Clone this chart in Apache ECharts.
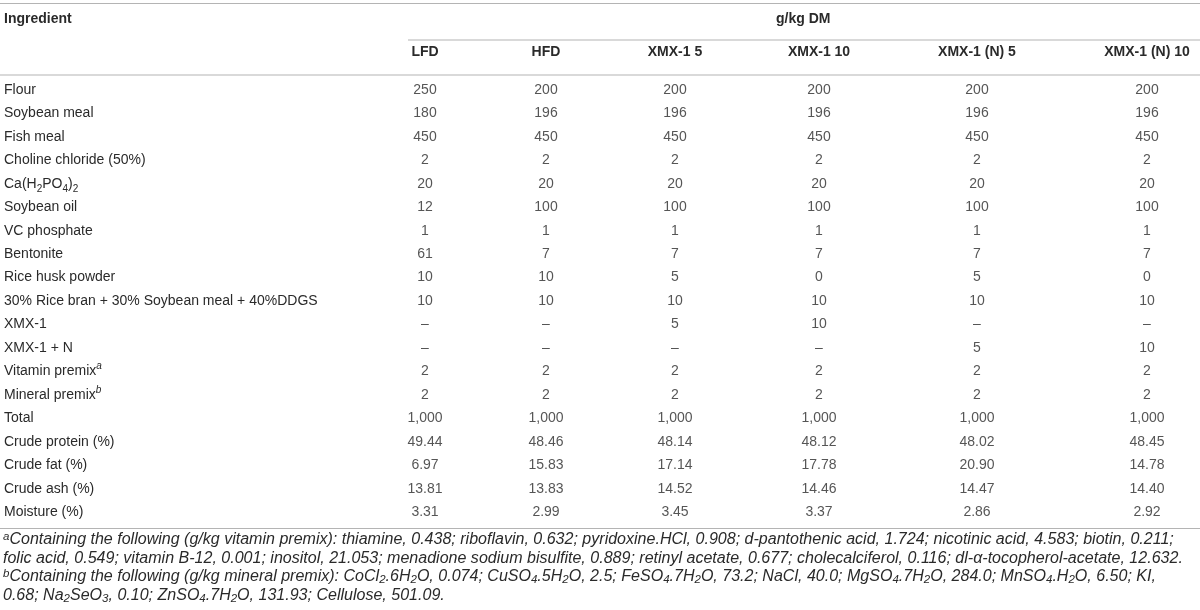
<!DOCTYPE html>
<html>
<head>
<meta charset="utf-8">
<script src="https://cdn.jsdelivr.net/npm/echarts@6/dist/echarts.min.js"></script>
<style>
html,body{margin:0;padding:0;background:#fff;}
#chart{width:1200px;height:610px;}
</style>
</head>
<body>
<div id="chart"></div>
<script>
// ---- data ----
const rows = ['Flour','Soybean meal','Fish meal','Choline chloride (50%)','Ca(H2PO4)2','Soybean oil','VC phosphate','Bentonite','Rice husk powder','30% Rice bran + 30% Soybean meal + 40%DDGS','XMX-1','XMX-1 + N','Vitamin premix','Mineral premix','Total','Crude protein (%)','Crude fat (%)','Crude ash (%)','Moisture (%)'];
const columns = ['LFD','HFD','XMX-1 5','XMX-1 10','XMX-1 (N) 5','XMX-1 (N) 10'];
const LFD      = ['250','180','450','2','20','12','1','61','10','10','–','–','2','2','1,000','49.44','6.97','13.81','3.31'];
const HFD      = ['200','196','450','2','20','100','1','7','10','10','–','–','2','2','1,000','48.46','15.83','13.83','2.99'];
const XMX1_5   = ['200','196','450','2','20','100','1','7','5','10','5','–','2','2','1,000','48.14','17.14','14.52','3.45'];
const XMX1_10  = ['200','196','450','2','20','100','1','7','0','10','10','–','2','2','1,000','48.12','17.78','14.46','3.37'];
const XMX1N_5  = ['200','196','450','2','20','100','1','7','5','10','–','5','2','2','1,000','48.02','20.90','14.47','2.86'];
const XMX1N_10 = ['200','196','450','2','20','100','1','7','0','10','–','10','2','2','1,000','48.45','14.78','14.40','2.92'];
const columnValues = [LFD, HFD, XMX1_5, XMX1_10, XMX1N_5, XMX1N_10];
const headerLeft = 'Ingredient';
const headerGroup = 'g/kg DM';
const rowLabelRich = {
  'Ca(H2PO4)2': 'Ca(H{sub|2}PO{sub|4}){sub|2}',
  'Vitamin premix': 'Vitamin premix{sup|a}',
  'Mineral premix': 'Mineral premix{sup|b}'
};
const footnotes = [
  '{sup|a}Containing the following (g/kg vitamin premix): thiamine, 0.438; riboflavin, 0.632; pyridoxine.HCl, 0.908; d-pantothenic acid, 1.724; nicotinic acid, 4.583; biotin, 0.211;',
  'folic acid, 0.549; vitamin B-12, 0.001; inositol, 21.053; menadione sodium bisulfite, 0.889; retinyl acetate, 0.677; cholecalciferol, 0.116; dl-α-tocopherol-acetate, 12.632.',
  '{sup|b}Containing the following (g/kg mineral premix): CoCl{sub|2}.6H{sub|2}O, 0.074; CuSO{sub|4}.5H{sub|2}O, 2.5; FeSO{sub|4}.7H{sub|2}O, 73.2; NaCl, 40.0; MgSO{sub|4}.7H{sub|2}O, 284.0; MnSO{sub|4}.H{sub|2}O, 6.50; KI,',
  '0.68; Na{sub|2}SeO{sub|3}, 0.10; ZnSO{sub|4}.7H{sub|2}O, 131.93; Cellulose, 501.09.'
];

// ---- layout ----
const FONT = 'Liberation Sans, Arial, Helvetica, sans-serif';
const TXT = '#2a2a2a';
const RULE = '#b4b4b4';
const colCenters = [425, 546, 675, 819, 977, 1147];
const colHalf = 30;
const rowH = 23.45;
const firstRowY = 90;
const gridTop = firstRowY - rowH / 2;
const gridHeight = rowH * rows.length;
const FN = 16.05;

const grids = [], xAxes = [], yAxes = [], series = [];
columns.forEach((col, j) => {
  const left = colCenters[j] - colHalf;
  grids.push({ left: left, width: colHalf * 2, top: gridTop, height: gridHeight, containLabel: false });
  xAxes.push({
    type: 'category', gridIndex: j, data: [col], position: 'top',
    axisLine: { show: false }, axisTick: { show: false }, splitLine: { show: false },
    axisLabel: { show: true, margin: 19, color: TXT, fontFamily: FONT, fontSize: 14, fontWeight: 'bold', interval: 0 }
  });
  yAxes.push({
    type: 'category', gridIndex: j, data: rows, inverse: true,
    axisLine: { show: false }, axisTick: { show: false }, splitLine: { show: false },
    axisLabel: j === 0 ? {
      show: true, interval: 0, align: 'left', margin: left - 4,
      color: TXT, fontFamily: FONT, fontSize: 14, lineHeight: 20,
      formatter: v => rowLabelRich[v] || v,
      rich: {
        sub: { fontSize: 10, lineHeight: 10, verticalAlign: 'bottom', color: TXT, fontFamily: FONT },
        sup: { fontSize: 10, lineHeight: 12, verticalAlign: 'top', color: TXT, fontFamily: FONT, fontStyle: 'italic' }
      }
    } : { show: false }
  });
  const vals = columnValues[j];
  series.push({
    type: 'scatter', xAxisIndex: j, yAxisIndex: j, silent: true,
    symbolSize: 1, itemStyle: { color: 'rgba(0,0,0,0)' },
    label: {
      show: true, position: 'inside', color: TXT, fontFamily: FONT, fontSize: 14,
      formatter: p => p.data.text
    },
    data: rows.map((r, i) => ({ value: [col, r], text: vals[i] }))
  });
});

const rule = (x1, x2, y) => ({
  type: 'line', silent: true,
  shape: { x1: x1, y1: y, x2: x2, y2: y },
  style: { stroke: RULE, lineWidth: 1.2 }
});

const option = {
  animation: false,
  backgroundColor: '#fff',
  title: [
    { text: headerLeft, left: 4, top: 12, padding: 0,
      textStyle: { fontFamily: FONT, fontSize: 14, fontWeight: 'bold', color: TXT, lineHeight: 14 } },
    { text: headerGroup, left: 776, top: 12, padding: 0,
      textStyle: { fontFamily: FONT, fontSize: 14, fontWeight: 'bold', color: TXT, lineHeight: 14 } },
    { text: footnotes.join('\n'), left: 3, top: 530.5, padding: 0,
      textStyle: {
        fontFamily: FONT, fontSize: FN, fontStyle: 'italic', fontWeight: 'normal', color: TXT, lineHeight: 18.5,
        rich: {
          sub: { fontSize: 11.5, lineHeight: 10, verticalAlign: 'bottom', color: TXT, fontFamily: FONT, fontStyle: 'italic' },
          sup: { fontSize: 11.5, lineHeight: 12, verticalAlign: 'top', color: TXT, fontFamily: FONT }
        }
      } }
  ],
  grid: grids,
  xAxis: xAxes,
  yAxis: yAxes,
  series: series,
  graphic: [
    rule(0, 1200, 3.5),
    rule(408, 1200, 40),
    rule(0, 1200, 75),
    rule(0, 1200, 528.5)
  ]
};

const chart = echarts.init(document.getElementById('chart'), null, { renderer: 'canvas' });
chart.setOption(option);
</script>
</body>
</html>
